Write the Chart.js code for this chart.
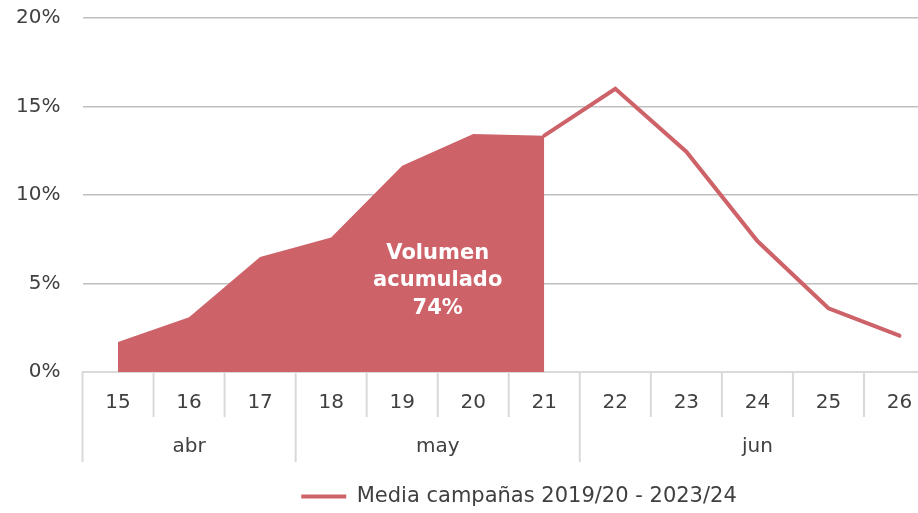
<!DOCTYPE html>
<html>
<head>
<meta charset="utf-8">
<script src="https://cdn.jsdelivr.net/npm/chart.js@4.4.1/dist/chart.umd.min.js"></script>
<style>
  html, body { margin: 0; padding: 0; background: #fff; }
  #frame { width: 918px; height: 513px; overflow: hidden; position: relative; }
  #wrap { width: 1038px; height: 517px; position: absolute; left: 0; top: 0; }
</style>
</head>
<body>
<div id="frame"><div id="wrap"><canvas id="chart"></canvas></div></div>
<script>
// semanas (días) y meses del eje x
const dias = ['15', '16', '17', '18', '19', '20', '21', '22', '23', '24', '25', '26'];
const meses = ['abr', 'may', 'jun'];
const diasPorMes = [3, 4, 5];

// % medio semanal, campañas 2019/20 - 2023/24
const media = [1.7, 3.1, 6.5, 7.6, 11.65, 13.45, 13.35, 16.0, 12.45, 7.4, 3.6, 2.05];
const corte = 6; // índice del día 21: último del volumen acumulado

const yTicks = [0, 5, 10, 15, 20];
const serieLabel = 'Media campañas 2019/20 - 2023/24';
const nota = ['Volumen', 'acumulado', '74%'];

const ROJO = '#CD6269';
const TEXTO = '#404040';
const FUENTE = '"DejaVu Sans", sans-serif';

const acumulado = media.map((v, i) => i <= corte ? v : null);
const resto = media.map((v, i) => i >= corte ? v : null);

/* separadores del eje de dos niveles + etiquetas de mes */
const ejeDoble = {
    id: 'ejeDoble',
    afterDraw(chart) {
        const x = chart.scales.x;
        const ctx = chart.ctx;
        const top = x.top;
        const paso = x.getPixelForValue(1) - x.getPixelForValue(0);
        const x0 = x.getPixelForValue(0) - paso / 2;

        const bordes = [0];
        let acc = 0;
        diasPorMes.forEach(n => { acc += n; bordes.push(acc); });

        ctx.save();
        ctx.strokeStyle = '#D9D9D9';
        ctx.lineWidth = 2;
        for (let i = 0; i <= dias.length; i++) {
            const px = x0 + i * paso;
            const fin = bordes.includes(i) ? top + 90 : top + 45;
            ctx.beginPath();
            ctx.moveTo(px, top);
            ctx.lineTo(px, fin);
            ctx.stroke();
        }

        ctx.fillStyle = TEXTO;
        ctx.font = '20px ' + FUENTE;
        ctx.textAlign = 'center';
        ctx.textBaseline = 'middle';
        let ini = 0;
        meses.forEach((m, k) => {
            const a = x.getPixelForValue(ini);
            const b = x.getPixelForValue(ini + diasPorMes[k] - 1);
            ctx.fillText(m, (a + b) / 2, top + 75);
            ini += diasPorMes[k];
        });
        ctx.restore();
    }
};

/* texto dentro del área rellena */
const notaVolumen = {
    id: 'notaVolumen',
    afterDatasetsDraw(chart) {
        const x = chart.scales.x;
        const y = chart.scales.y;
        const ctx = chart.ctx;
        const cx = (x.getPixelForValue(4) + x.getPixelForValue(5)) / 2;
        const cy = y.getPixelForValue(6.7);
        ctx.save();
        ctx.fillStyle = '#fff';
        ctx.font = 'bold 21px ' + FUENTE;
        ctx.textAlign = 'center';
        ctx.textBaseline = 'middle';
        nota.forEach((t, i) => ctx.fillText(t, cx, cy + i * 27.5));
        ctx.restore();
    }
};

new Chart(document.getElementById('chart'), {
    type: 'line',
    data: {
        labels: dias,
        datasets: [{
            label: 'acumulado',
            data: acumulado,
            fill: 'origin',
            backgroundColor: ROJO,
            borderWidth: 0,
            pointRadius: 0,
            spanGaps: false
        }, {
            label: serieLabel,
            data: resto,
            fill: false,
            borderColor: ROJO,
            backgroundColor: ROJO,
            borderWidth: 4,
            borderCapStyle: 'round',
            pointRadius: 0,
            pointStyle: 'line',
            spanGaps: false
        }]
    },
    options: {
        responsive: true,
        maintainAspectRatio: false,
        animation: false,
        events: [],
        layout: { padding: { top: 18, left: 0, right: 0, bottom: 0 } },
        plugins: {
            tooltip: { enabled: false },
            legend: {
                position: 'bottom',
                labels: {
                    filter: item => item.datasetIndex === 1,
                    usePointStyle: true,
                    pointStyleWidth: 45,
                    padding: 10,
                    color: TEXTO,
                    font: { size: 21, family: FUENTE }
                }
            }
        },
        scales: {
            x: {
                offset: true,
                grid: { display: false },
                border: { display: true, color: '#D9D9D9', width: 2 },
                ticks: {
                    color: TEXTO,
                    padding: 11,
                    maxRotation: 0,
                    autoSkip: false,
                    font: { size: 20, family: FUENTE }
                },
                afterFit: s => { s.height = 104; s.paddingLeft = 0; s.paddingRight = 0; }
            },
            y: {
                min: 0,
                max: 20,
                afterBuildTicks: s => { s.ticks = yTicks.map(v => ({ value: v })); },
                grid: {
                    drawTicks: false,
                    color: c => c.tick.value === 0 ? '#D9D9D9' : '#BFBFBF',
                    lineWidth: c => c.tick.value === 0 ? 2 : 1.5
                },
                border: { display: false },
                ticks: {
                    color: TEXTO,
                    padding: 22,
                    font: { size: 20, family: FUENTE },
                    callback: v => v + '%'
                },
                afterFit: s => { s.width = 82.5; s.paddingTop = 0; s.paddingBottom = 0; }
            },
            // eje vacío a la derecha: deja el área de gráfico cortada como en el original
            y2: {
                position: 'right',
                grid: { display: false, drawTicks: false },
                border: { display: false },
                ticks: { display: false },
                afterFit: s => { s.width = 103; s.paddingTop = 0; s.paddingBottom = 0; }
            }
        }
    },
    plugins: [ejeDoble, notaVolumen]
});
</script>
</body>
</html>
